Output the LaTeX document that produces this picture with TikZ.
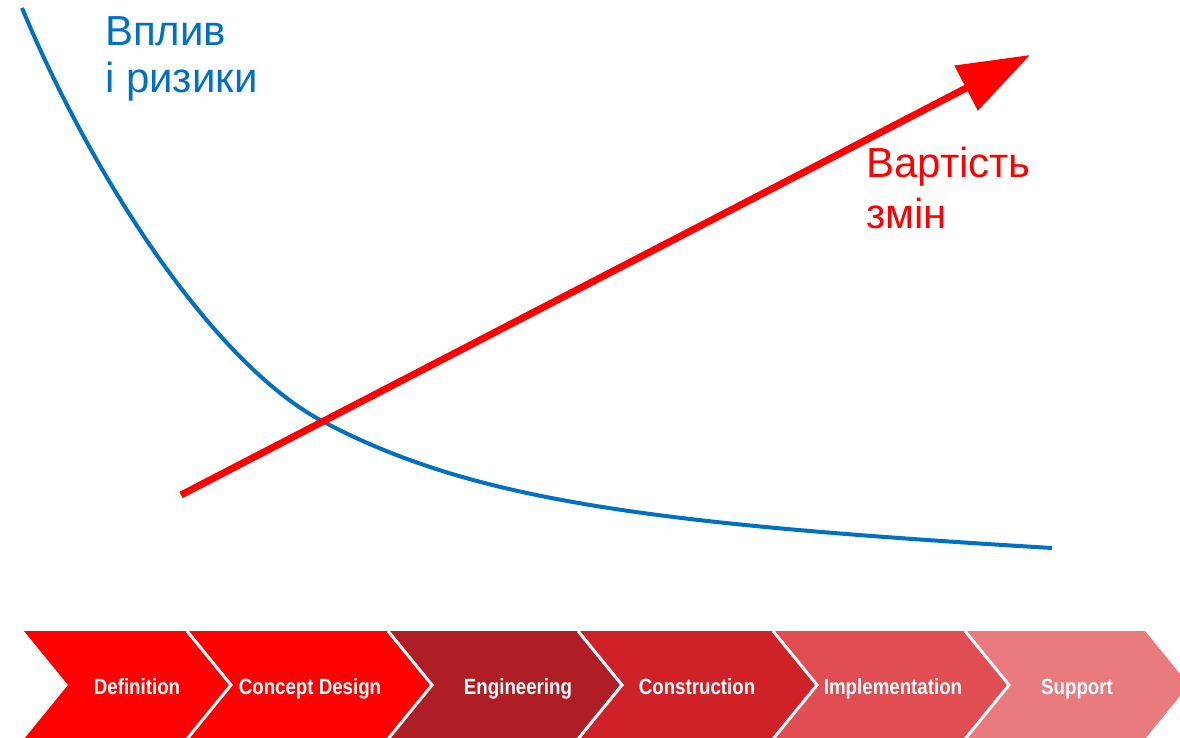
\documentclass[tikz,border=0pt]{standalone}
\usepackage{fontspec}
\setmainfont{Liberation Sans}
\newfontfamily\stagefont[FakeStretch=0.85]{Liberation Sans}
\usetikzlibrary{arrows.meta}
\definecolor{riskblue}{HTML}{0070C0}
\definecolor{costred}{HTML}{FF0000}
\definecolor{stageA}{HTML}{FF0000}
\definecolor{stageB}{HTML}{AF1E24}
\definecolor{stageC}{HTML}{CF2228}
\definecolor{stageD}{HTML}{E04D53}
\definecolor{stageE}{HTML}{E97A7E}
\begin{document}
\begin{tikzpicture}[x=1pt,y=-1pt,
    stage/.style={anchor=base,text=white,font=\stagefont\bfseries\fontsize{22}{26}\selectfont},
    label/.style={anchor=base west,align=left,inner sep=0pt},
    sep/.style={draw=white,line width=3pt}]
      \clip (0,0) rectangle (1180,737);
      \def\t{631};
      \def\m{685};
      \def\b{739};
      \def\d{44};
      % process chevrons
      \fill[stageA] (24,\t) -- (187,\t) -- (187+\d,\m) -- (187,\b) -- (24,\b) -- (24+\d,\m) -- cycle;
      \fill[stageA] (187,\t) -- (388,\t) -- (388+\d,\m) -- (388,\b) -- (187,\b) -- (187+\d,\m) -- cycle;
      \fill[stageB] (388,\t) -- (578,\t) -- (578+\d,\m) -- (578,\b) -- (388,\b) -- (388+\d,\m) -- cycle;
      \fill[stageC] (578,\t) -- (773,\t) -- (773+\d,\m) -- (773,\b) -- (578,\b) -- (578+\d,\m) -- cycle;
      \fill[stageD] (773,\t) -- (965,\t) -- (965+\d,\m) -- (965,\b) -- (773,\b) -- (773+\d,\m) -- cycle;
      \fill[stageE] (965,\t) -- (1145,\t) -- (1145+\d,\m) -- (1145,\b) -- (965,\b) -- (965+\d,\m) -- cycle;
      \draw[sep] (187,\t) -- (187+\d,\m) -- (187,\b);
      \draw[sep] (388,\t) -- (388+\d,\m) -- (388,\b);
      \draw[sep] (578,\t) -- (578+\d,\m) -- (578,\b);
      \draw[sep] (773,\t) -- (773+\d,\m) -- (773,\b);
      \draw[sep] (965,\t) -- (965+\d,\m) -- (965,\b);
      \node[stage] (definition) at (137,694) {Definition};
      \node[stage] (concept) at (310,694) {Concept Design};
      \node[stage] (engineering) at (518,694) {Engineering};
      \node[stage] (construction) at (697,694) {Construction};
      \node[stage] (implementation) at (893,694) {Implementation};
      \node[stage] (support) at (1077,694) {Support};
      % impact and risk curve
      \coordinate (rtop) at (22,8);
      \coordinate (rmid) at (322,421);
      \coordinate (rend) at (1052,548);
      \draw[riskblue,line width=4pt] (rtop) .. controls (92,176) and (212,362) .. (rmid)
        .. controls (472,501) and (652,524) .. (rend);
      \node[label,text=riskblue,font=\fontsize{42}{47}\selectfont] (impact) at (105,92) {Вплив\\і ризики};
      % cost of change
      \coordinate (cstart) at (181,495);
      \coordinate (ctip) at (1030,55);
      \draw[costred,line width=7pt,-{Triangle[length=72pt,width=49pt]}] (cstart) -- (ctip);
      \node[label,text=costred,font=\fontsize{42}{51}\selectfont] (cost) at (866,228) {Вартість\\змін};
    \end{tikzpicture}
\end{document}
